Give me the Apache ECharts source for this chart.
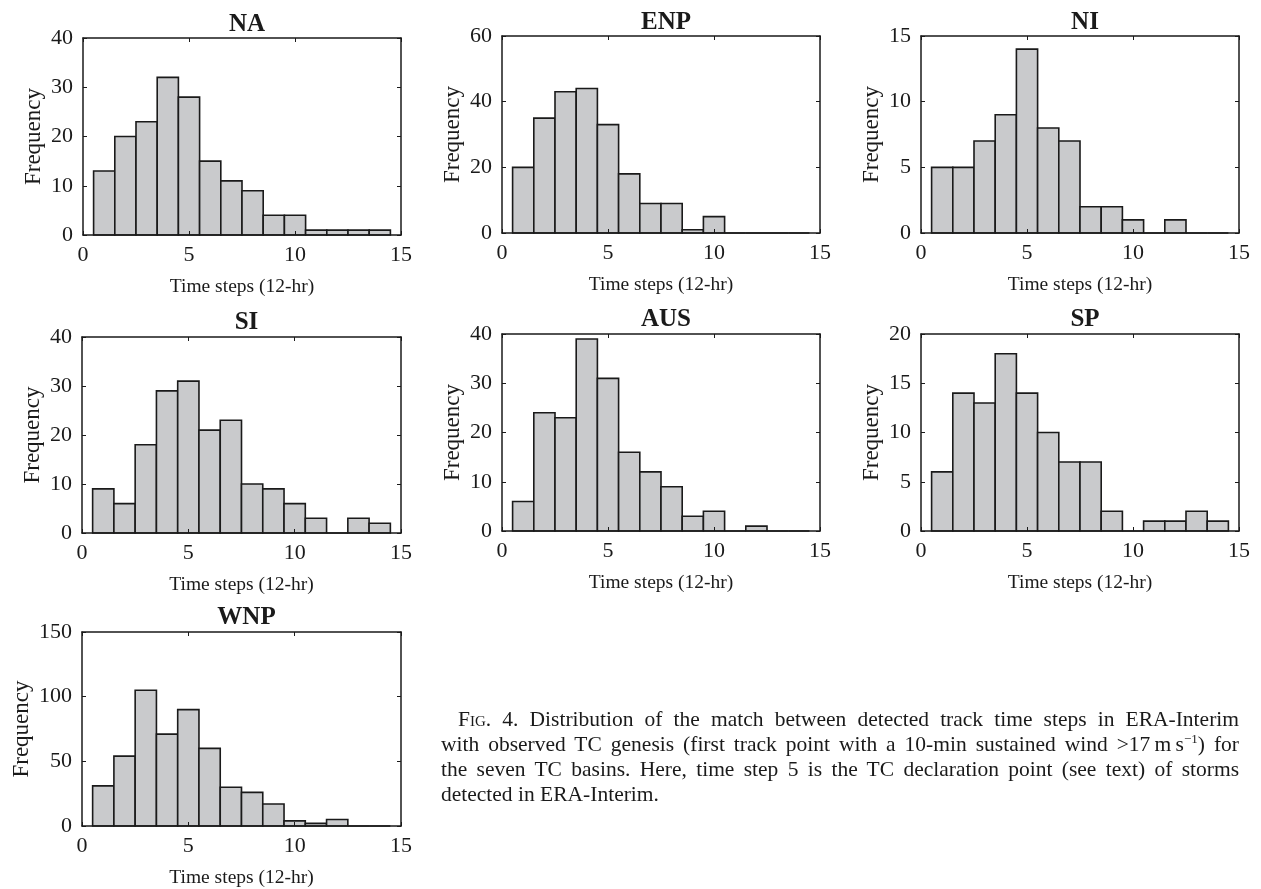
<!DOCTYPE html>
<html>
<head>
<meta charset="utf-8">
<script src="https://cdn.jsdelivr.net/npm/echarts@6/dist/echarts.min.js"></script>
<style>
  html, body { margin: 0; padding: 0; background: #fff; }
  #chart { width: 1261px; height: 889px; position: absolute; left: 0; top: 0; }
  #caption { position: absolute; left: 441px; top: 707px; width: 798px;
    font-family: "Liberation Serif", "DejaVu Serif", serif; font-size: 21.5px; line-height: 25px; color: #1a1a1a; }
  #caption div { text-align: justify; text-align-last: justify; white-space: nowrap; }
  #caption div.first { text-indent: 17px; }
  #caption div.last { text-align-last: left; }
  #caption sup { font-size: 13px; line-height: 0; vertical-align: 8px; }
  .sc { font-variant: small-caps; }
</style>
</head>
<body>
<div id="chart"></div>
<div id="caption">
  <div class="first"><span class="sc">Fig.</span> 4. Distribution of the match between detected track time steps in ERA-Interim</div>
  <div>with observed TC genesis (first track point with a 10-min sustained wind &gt;17&#8201;m&#8201;s<sup>&minus;1</sup>) for</div>
  <div>the seven TC basins. Here, time step 5 is the TC declaration point (see text) of storms</div>
  <div class="last">detected in ERA-Interim.</div>
</div>
<script>
// ---- data ----
const bins = [1, 2, 3, 4, 5, 6, 7, 8, 9, 10, 11, 12, 13, 14];
const binWidth = 1;
const basinNames = ['NA', 'ENP', 'NI', 'SI', 'AUS', 'SP', 'WNP'];
const naVals  = [13, 20, 23, 32, 28, 15, 11, 9, 4, 4, 1, 1, 1, 1];
const enpVals = [20, 35, 43, 44, 33, 18, 9, 9, 1, 5, 0, 0, 0, 0];
const niVals  = [5, 5, 7, 9, 14, 8, 7, 2, 2, 1, 0, 1, 0, 0];
const siVals  = [9, 6, 18, 29, 31, 21, 23, 10, 9, 6, 3, 0, 3, 2];
const ausVals = [6, 24, 23, 39, 31, 16, 12, 9, 3, 4, 0, 1, 0, 0];
const spVals  = [6, 14, 13, 18, 14, 10, 7, 7, 2, 0, 1, 1, 2, 1];
const wnpVals = [31, 54, 105, 71, 90, 60, 30, 26, 17, 4, 2, 5, 0, 0];
const yMaxes  = [40, 60, 15, 40, 40, 20, 150];
const ySteps  = [10, 20, 5, 10, 10, 5, 50];
const xMin = 0, xMax = 15, xStep = 5;
const xLabel = 'Time steps (12-hr)';
const yLabel = 'Frequency';

const allVals = [naVals, enpVals, niVals, siVals, ausVals, spVals, wnpVals];

// ---- layout ----
const grids = [
  { left: 83,  top: 38,  width: 318, height: 197, titleTop: 7,  yGap: 38 },
  { left: 502, top: 36,  width: 318, height: 197, titleTop: 5,  yGap: 38 },
  { left: 921, top: 36,  width: 318, height: 197, titleTop: 5,  yGap: 38 },
  { left: 82,  top: 337, width: 319, height: 196, titleTop: 305, yGap: 38 },
  { left: 502, top: 334, width: 318, height: 197, titleTop: 302, yGap: 38 },
  { left: 921, top: 334, width: 318, height: 197, titleTop: 302, yGap: 38 },
  { left: 82,  top: 632, width: 319, height: 196, titleTop: 600, yGap: 49 }
];

const FONT = '"Liberation Serif", "Times New Roman", serif';
const INK = '#1a1a1a';

const option = { animation: false, backgroundColor: '#fff', title: [], grid: [], xAxis: [], yAxis: [], series: [] };

grids.forEach((g, i) => {
  option.grid.push({ left: g.left, top: g.top, width: g.width, height: g.height, containLabel: false });
  option.title.push({
    text: basinNames[i], left: g.left + g.width / 2, top: g.titleTop, textAlign: 'center',
    textStyle: { fontFamily: FONT, fontWeight: 'bold', fontSize: 25, color: INK }
  });
  const axisLine = { show: true, onZero: false, lineStyle: { color: INK, width: 1.5 } };
  const tick = { show: true, inside: true, length: 4, lineStyle: { color: INK, width: 1 } };
  option.xAxis.push({
    type: 'value', gridIndex: i, position: 'bottom', min: xMin, max: xMax, interval: xStep,
    axisLine: axisLine, axisTick: tick, splitLine: { show: false },
    axisLabel: { fontFamily: FONT, fontSize: 22, color: INK, margin: 9 },
    name: xLabel, nameLocation: 'middle', nameGap: 42,
    nameTextStyle: { fontFamily: FONT, fontSize: 19.5, color: INK }, z: 5
  });
  option.xAxis.push({
    type: 'value', gridIndex: i, position: 'top', min: xMin, max: xMax, interval: xStep,
    axisLine: axisLine, axisTick: tick, splitLine: { show: false }, axisLabel: { show: false }, z: 5
  });
  option.yAxis.push({
    type: 'value', gridIndex: i, position: 'left', min: 0, max: yMaxes[i], interval: ySteps[i],
    axisLine: axisLine, axisTick: tick, splitLine: { show: false },
    axisLabel: { fontFamily: FONT, fontSize: 22, color: INK, margin: 10 },
    name: yLabel, nameLocation: 'middle', nameGap: g.yGap, nameRotate: 90,
    nameTextStyle: { fontFamily: FONT, fontSize: 23, color: INK }, z: 5
  });
  option.yAxis.push({
    type: 'value', gridIndex: i, position: 'right', min: 0, max: yMaxes[i], interval: ySteps[i],
    axisLine: axisLine, axisTick: tick, splitLine: { show: false }, axisLabel: { show: false }, z: 5
  });
  option.series.push({
    type: 'custom', xAxisIndex: 2 * i, yAxisIndex: 2 * i,
    data: bins.map((b, k) => [b, allVals[i][k]]),
    renderItem: function (params, api) {
      const x = api.value(0), y = api.value(1);
      const p0 = api.coord([x - binWidth / 2, y]);
      const p1 = api.coord([x + binWidth / 2, 0]);
      return {
        type: 'rect',
        shape: { x: p0[0], y: p0[1], width: p1[0] - p0[0], height: p1[1] - p0[1] },
        style: { fill: '#c9cacc', stroke: INK, lineWidth: 1.6 }
      };
    },
    z: 2
  });
});

const chart = echarts.init(document.getElementById('chart'), null, { renderer: 'canvas' });
chart.setOption(option);
</script>
</body>
</html>
